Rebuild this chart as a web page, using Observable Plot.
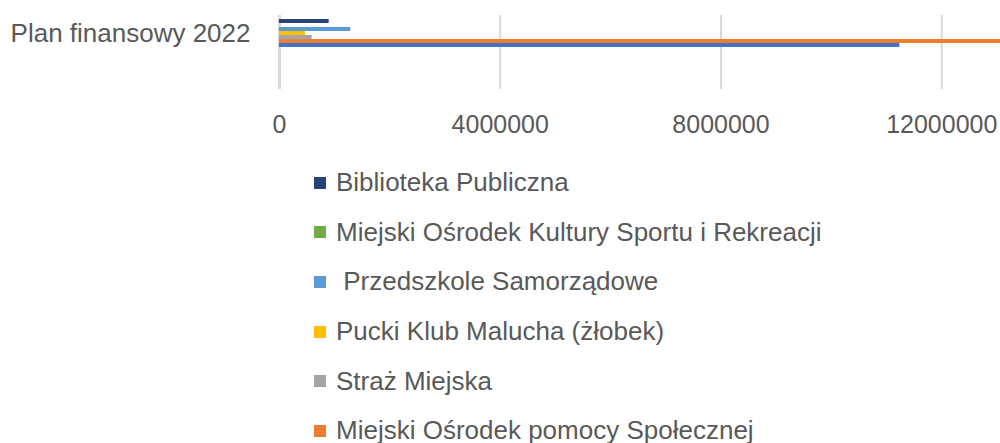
<!DOCTYPE html>
<html>
<head>
<meta charset="utf-8">
<script src="https://cdn.jsdelivr.net/npm/d3@7"></script>
<script src="https://cdn.jsdelivr.net/npm/@observablehq/plot@0.6"></script>
<style>
  html, body { margin: 0; padding: 0; background: #fff; overflow: hidden; width: 1000px; height: 443px; }
  #chart { width: 1000px; overflow: hidden; }
  #chart svg { display: block; max-width: none !important; width: 1170px !important; height: 139px !important; }
  .legend { margin-top: 19px; margin-left: 314px; font-family: "Liberation Sans", Arial, sans-serif; font-size: 26px; color: #595959; }
  .legend .item { height: 49.6px; display: flex; align-items: center; white-space: pre; }
  .legend .sw { width: 12px; height: 12px; margin-right: 10px; flex: none; }
</style>
</head>
<body>
<div id="chart"></div>
<script>
const category = "Plan finansowy 2022";
const series = [
  "Biblioteka Publiczna",
  "Miejski Ośrodek Kultury Sportu i Rekreacji",
  " Przedszkole Samorządowe",
  "Pucki Klub Malucha (żłobek)",
  "Straż Miejska",
  "Miejski Ośrodek pomocy Społecznej",
  "Szkoła Podstawowa"
];
const values = [900000, 0, 1290000, 470000, 590000, 14500000, 11240000];
const colors = ["#264478", "#70AD47", "#5B9BD5", "#FFC000", "#A5A5A5", "#ED7D31", "#4472C4"];
const ticks = [0, 4000000, 8000000, 12000000, 16000000];

const data = series.map((s, i) => ({category, series: s, value: values[i]}));

const chart = Plot.plot({
  width: 1170,
  height: 139,
  marginLeft: 279,
  marginRight: 8,
  marginTop: 15,
  marginBottom: 50,
  style: {fontFamily: '"Liberation Sans", Arial, sans-serif', fontSize: "25px", color: "#595959", background: "#fff", overflow: "visible"},
  x: {domain: [0, 16000000], axis: null},
  y: {domain: series, range: [17.3, 48.1], padding: 0, axis: null},
  color: {domain: series, range: colors},
  marks: [
    Plot.ruleX(ticks, {stroke: "#D9D9D9", strokeWidth: 2}),
    Plot.ruleX([0], {stroke: "#D9D9D9", strokeWidth: 3}),
    Plot.barX(data, {x: "value", y: "series", fill: "series"}),
    Plot.axisX({ticks, label: null, tickSize: 0, tickPadding: 25.5, tickFormat: d => String(d), fill: "#595959", fontSize: 25}),
    Plot.text([category], {y: () => series[3], frameAnchor: "left", textAnchor: "end", dx: -29, fill: "#595959", fontSize: 26})
  ]
});
document.getElementById("chart").appendChild(chart);

const legend = document.createElement("div");
legend.className = "legend";
series.forEach((s, i) => {
  const item = document.createElement("div");
  item.className = "item";
  const sw = document.createElement("span");
  sw.className = "sw";
  sw.style.background = colors[i];
  const label = document.createElement("span");
  label.textContent = s;
  item.appendChild(sw);
  item.appendChild(label);
  legend.appendChild(item);
});
document.body.appendChild(legend);
</script>
</body>
</html>
